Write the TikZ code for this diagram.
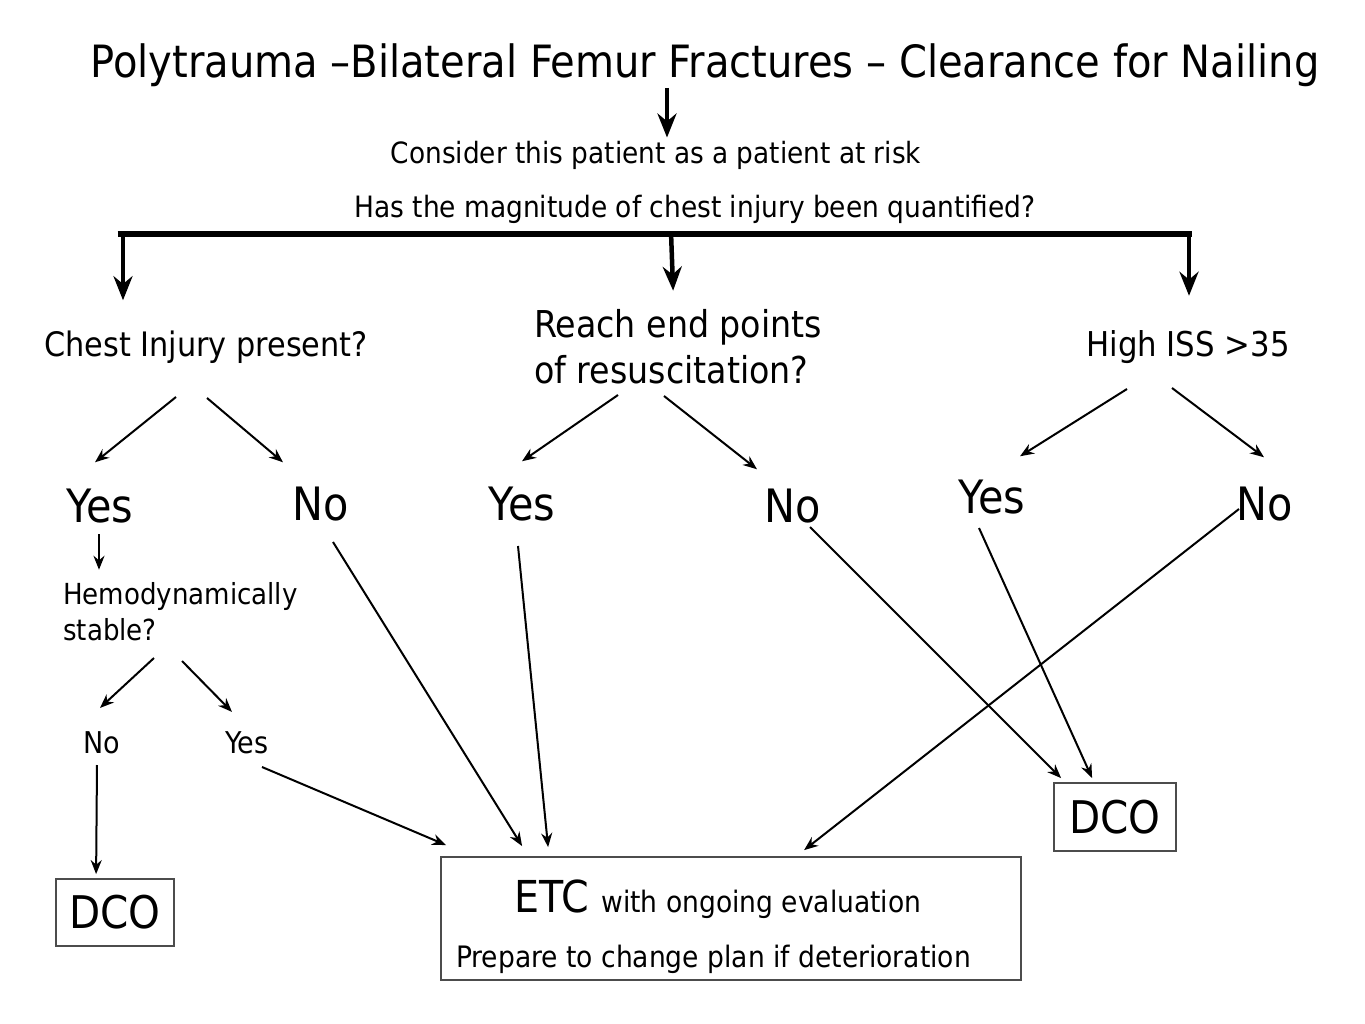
\documentclass[tikz,border=0pt]{standalone}
\usepackage{fontspec}
\setmainfont{DejaVu Sans Condensed}
\usetikzlibrary{arrows.meta}
\begin{document}
\begin{tikzpicture}[x=1pt,y=-1pt,
  txt/.style={inner sep=0pt,anchor=base},
  arr/.style={line width=2pt,-{Stealth[length=14pt,width=11pt]}},
  thickarr/.style={line width=4.5pt,-{Stealth[length=24pt,width=19pt]}},
  boxed/.style={draw=black!70,line width=1.8pt,inner sep=0pt}]
\useasboundingbox[fill=white] (0,0) rectangle (1365,1024);
% texts
\node[txt,font=\fontsize{44.5}{50}\selectfont] (title) at (705,78) {Polytrauma –Bilateral Femur Fractures – Clearance for Nailing};
\node[txt,font=\fontsize{29.3}{34}\selectfont] (consider) at (656,164) {Consider this patient as a patient at risk};
\node[txt,font=\fontsize{29.4}{34}\selectfont] (has) at (695,218) {Has the magnitude of chest injury been quantified?};
\node[txt,font=\fontsize{33.7}{38}\selectfont] (chest) at (206,356) {Chest Injury present?};
\node[txt,anchor=base west,font=\fontsize{37}{42}\selectfont] (reach) at (534,337) {Reach end points};
\node[txt,anchor=base west,font=\fontsize{37}{42}\selectfont] (resus) at (534,383) {of resuscitation?};
\node[txt,font=\fontsize{34.2}{38}\selectfont] (high) at (1188,356) {High ISS >35};
\node[txt,font=\fontsize{46}{50}\selectfont] (yesA) at (100,522) {Yes};
\node[txt,font=\fontsize{46}{50}\selectfont] (noA) at (321,520) {No};
\node[txt,font=\fontsize{46}{50}\selectfont] (yesB) at (522,520) {Yes};
\node[txt,font=\fontsize{46}{50}\selectfont] (noB) at (793,522) {No};
\node[txt,font=\fontsize{46}{50}\selectfont] (yesC) at (992,513) {Yes};
\node[txt,font=\fontsize{46}{50}\selectfont] (noC) at (1265,520) {No};
\node[txt,anchor=base west,font=\fontsize{29}{34}\selectfont] (hemo) at (63,604) {Hemodynamically};
\node[txt,anchor=base west,font=\fontsize{29}{34}\selectfont] (stable) at (63,640) {stable?};
\node[txt,font=\fontsize{30}{34}\selectfont] (noS) at (102,753) {No};
\node[txt,font=\fontsize{30}{34}\selectfont] (yesS) at (247,753) {Yes};
% boxes
\node[boxed,minimum width=118pt,minimum height=67pt,font=\fontsize{45}{50}\selectfont] (dcoL) at (115,912.5) {DCO};
\node[boxed,minimum width=122pt,minimum height=68pt,font=\fontsize{45}{50}\selectfont] (dcoR) at (1115,817) {DCO};
\node[boxed,minimum width=580pt,minimum height=123pt] (etc) at (731,918.5) {};
\node[txt,font=\fontsize{44}{48}\selectfont] (etct) at (718,912) {ETC {\fontsize{29.5}{34}\selectfont with ongoing evaluation}};
\node[txt,anchor=base west,font=\fontsize{29.5}{34}\selectfont] (prep) at (456,967) {Prepare to change plan if deterioration};
% top structure
\draw[thickarr] ([shift={(-38,10)}]title.base) -- ([shift={(11,-4)}]consider.north);
\coordinate (barL) at (120,234);
\coordinate (barR) at (1189,234);
\draw[line width=5.5pt] ([xshift=-2.5pt]barL) -- ([xshift=2.5pt]barR);
\draw[thickarr] (barL) ++(3,-2.5) -- ([shift={(-83,-30)}]chest.north);
\draw[thickarr] (671,232) -- ([shift={(-5,-18)}]reach.north);
\draw[thickarr] ([yshift=-2.5pt]barR) -- ([shift={(1,-34)}]high.north);
% branches
\draw[arr] ([shift={(-30,41)}]chest.base) -- ([shift={(-5,-26)}]yesA.north);
\draw[arr] ([shift={(1,42)}]chest.base) -- ([shift={(-38,-24)}]noA.north);
\draw[arr] ([shift={(84,12)}]resus.base west) -- ([shift={(0,-25)}]yesB.north);
\draw[arr] ([shift={(130,13)}]resus.base west) -- ([shift={(-36,-19)}]noB.north);
\draw[arr] ([shift={(-61,33)}]high.base) -- ([shift={(28,-23)}]yesC.north);
\draw[arr] ([shift={(-16,32)}]high.base) -- ([shift={(-1,-29)}]noC.north);
\draw[arr] ([shift={(-1,12)}]yesA.base) -- ([shift={(-1,-12)}]hemo.north west -| yesA);
\draw[arr] ([shift={(91,18)}]stable.base west) -- ([shift={(-2,-23)}]noS.north);
\draw[arr] ([shift={(119,21)}]stable.base west) -- ([shift={(-15,-19)}]yesS.north);
\draw[arr] ([shift={(-5,12)}]noS.base) -- ([shift={(41,-4)}]dcoL.north west);
% to outcome boxes
\draw[arr] ([shift={(15,14)}]yesS.base) -- ([shift={(6,-11)}]etc.north west);
\draw[arr] ([shift={(12,22)}]noA.base) -- ([shift={(82,-10)}]etc.north west);
\draw[arr] ([shift={(-4,26)}]yesB.base) -- ([shift={(108,-9)}]etc.north west);
\draw[arr] ([shift={(-26,-26)}]noC.base |- 0,535) -- ([shift={(364,-6)}]etc.north west);
\draw[arr] ([shift={(17,5)}]noB.base) -- ([shift={(8,-4)}]dcoR.north west);
\draw[arr] ([shift={(-13,15)}]yesC.base) -- ([shift={(39,-4)}]dcoR.north west);
\end{tikzpicture}
\end{document}
